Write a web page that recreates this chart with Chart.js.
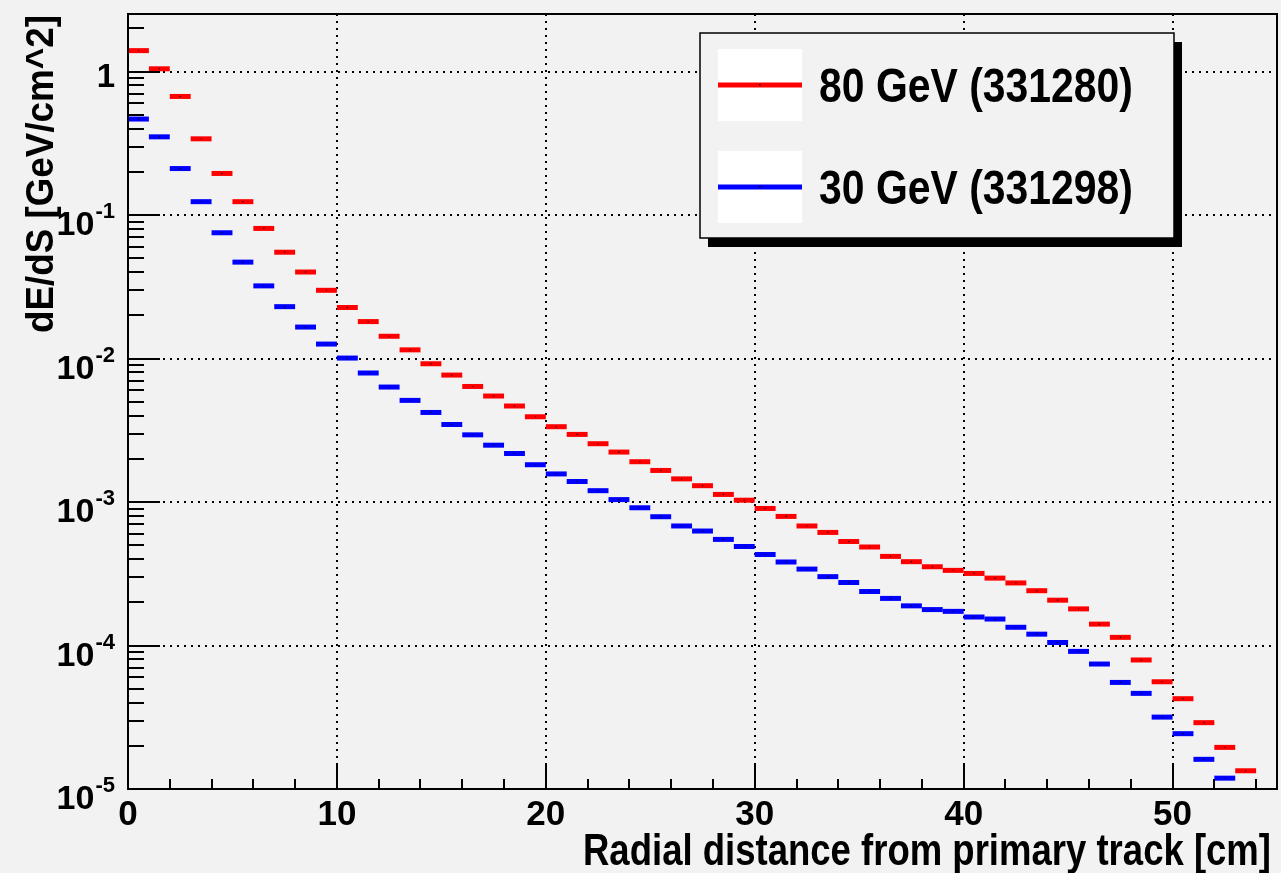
<!DOCTYPE html>
<html><head><meta charset="utf-8">
<script src="https://cdn.jsdelivr.net/npm/chart.js@4.4.1/dist/chart.umd.min.js"></script>
<style>html,body{margin:0;padding:0;background:#f2f2f2;overflow:hidden}canvas{display:block}</style>
</head><body>
<canvas id="c" width="1281" height="873" style="width:1281px;height:873px"></canvas>
<script>
// ---- data ----
const binLowEdges = [0,1,2,3,4,5,6,7,8,9,10,11,12,13,14,15,16,17,18,19,20,21,22,23,24,25,26,27,28,29,30,31,32,33,34,35,36,37,38,39,40,41,42,43,44,45,46,47,48,49,50,51,52,53];
const binWidth = 1;
const red80 = [1.40,1.046,0.671,0.340,0.195,0.124,0.0807,0.0551,0.0401,0.0299,
  0.0227,0.0181,0.0143,0.0115,0.0092,0.00767,0.00639,0.00548,0.00467,0.00393,
  0.00335,0.00296,0.00255,0.00223,0.00191,0.00166,0.00145,0.00130,0.00113,0.00103,
  0.000902,0.000794,0.000681,0.000614,0.000531,0.000486,0.000418,0.000384,0.000354,0.000334,
  0.000318,0.000295,0.000273,0.000241,0.000207,0.000180,0.000141,0.000114,0.0000793,0.0000559,
  0.0000426,0.0000290,0.0000195,0.0000134];
const blue30 = [0.467,0.351,0.211,0.124,0.0753,0.0470,0.0321,0.0230,0.01658,0.01262,
  0.01008,0.00793,0.00633,0.00511,0.00421,0.00347,0.00294,0.00249,0.00218,0.00182,
  0.00157,0.00139,0.00120,0.00104,0.000912,0.000790,0.000681,0.000628,0.000549,0.000490,
  0.000431,0.000382,0.000341,0.000302,0.000275,0.000238,0.000213,0.000189,0.000178,0.000173,
  0.000158,0.000153,0.000134,0.000120,0.000105,0.0000910,0.0000743,0.0000553,0.0000464,0.0000317,
  0.0000243,0.0000161,0.0000119];
const seriesLabels = ['80 GeV (331280)', '30 GeV (331298)'];
const seriesColors = ['#ff0000', '#0000ff'];
const xTickValues = [0, 10, 20, 30, 40, 50];
const xTickLabels = ['0', '10', '20', '30', '40', '50'];
const yTickExponents = [0, -1, -2, -3, -4, -5];
const xTitle = 'Radial distance from primary track [cm]';
const yTitle = 'dE/dS [GeV/cm^2]';

// ---- rendering ----
const FONT = "'Liberation Sans', Arial, Helvetica, sans-serif";
const X_MIN = 0, X_MAX = 55, Y_MIN = 1e-5, Y_MAX = 2.52;

function toPoints(vals) {
  return vals.map((v, i) => ({ x: binLowEdges[i] + binWidth / 2, y: v }));
}
function halfBin(c) {
  const s = c.chart.scales.x;
  return Math.abs(s.getPixelForValue(binWidth) - s.getPixelForValue(0)) / 2;
}
function barDataset(vals, color, label) {
  return { label, data: toPoints(vals), showLine: false, pointStyle: 'line',
    pointRadius: halfBin, pointHoverRadius: halfBin, pointBorderWidth: 5,
    pointBorderColor: color, pointBackgroundColor: color, order: 2 };
}
function dotDataset(vals) {
  return { label: '', data: toPoints(vals), showLine: false, pointStyle: 'rect',
    pointRadius: 0.8, pointBorderWidth: 0, pointBackgroundColor: '#000', order: 1 };
}

function drawStretched(ctx, text, x, y, size, targetW, align) {
  ctx.save();
  ctx.font = 'bold ' + size + 'px ' + FONT;
  const w = ctx.measureText(text).width;
  const sx = targetW ? targetW / w : 1;
  ctx.translate(x, y);
  ctx.scale(sx, 1);
  ctx.textAlign = align || 'left';
  ctx.textBaseline = 'alphabetic';
  ctx.fillText(text, 0, 0);
  ctx.restore();
}

const rootPlugin = {
  id: 'rootStyle',
  beforeDraw(chart) {
    const { ctx, width, height } = chart;
    ctx.save(); ctx.fillStyle = '#f2f2f2'; ctx.fillRect(0, 0, width, height); ctx.restore();
  },
  afterDraw(chart) {
    const { ctx, chartArea: a, scales: { x, y } } = chart;
    ctx.save();
    ctx.strokeStyle = '#000'; ctx.fillStyle = '#000'; ctx.lineWidth = 2;
    // tick marks (inside frame)
    ctx.beginPath();
    for (let v = X_MIN; v <= X_MAX; v += 2) {
      const px = Math.round(x.getPixelForValue(v));
      const len = (v % 10 === 0) ? 24 : 10;
      ctx.moveTo(px, a.bottom); ctx.lineTo(px, a.bottom - len);
    }
    for (let e = -5; e <= 0; e++) {
      for (let k = 1; k <= 9; k++) {
        const v = k * Math.pow(10, e);
        if (v > Y_MAX) continue;
        const py = Math.round(y.getPixelForValue(v));
        const len = k === 1 ? 32 : 16;
        ctx.moveTo(a.left, py); ctx.lineTo(a.left + len, py);
      }
    }
    ctx.stroke();
    // frame
    ctx.lineWidth = 2;
    ctx.strokeRect(a.left, a.top, a.right - a.left, a.bottom - a.top);

    // x tick labels
    ctx.font = 'bold 35px ' + FONT;
    ctx.textAlign = 'center'; ctx.textBaseline = 'alphabetic';
    xTickValues.forEach((v, i) => ctx.fillText(xTickLabels[i], x.getPixelForValue(v), 825));
    // y tick labels
    const RIGHT = 115;
    yTickExponents.forEach(e => {
      const py = y.getPixelForValue(Math.pow(10, e));
      ctx.textAlign = 'right';
      if (e === 0) {
        ctx.font = 'bold 33px ' + FONT;
        ctx.fillText('1', RIGHT, py + 15);
      } else {
        ctx.font = 'bold 22px ' + FONT;
        const sup = String(e);
        const sw = ctx.measureText(sup).width;
        ctx.fillText(sup, RIGHT, py + 3);
        ctx.font = 'bold 34px ' + FONT;
        ctx.fillText('10', RIGHT - sw - 1, py + 20);
      }
    });
    // axis titles
    drawStretched(ctx, xTitle, 1271, 865, 44, 688, 'right');
    ctx.save();
    ctx.translate(53, 15);
    ctx.rotate(-Math.PI / 2);
    drawStretched(ctx, yTitle, 0, 0, 39, 318, 'right');
    ctx.restore();

    // legend
    const L = { x: 700, y: 33, w: 474, h: 205 };
    ctx.fillStyle = '#000';
    ctx.fillRect(L.x + 8, L.y + 9, L.w, L.h);
    ctx.fillStyle = '#f2f2f2';
    ctx.fillRect(L.x, L.y, L.w, L.h);
    ctx.lineWidth = 1.5; ctx.strokeStyle = '#000';
    ctx.strokeRect(L.x, L.y, L.w, L.h);
    seriesLabels.forEach((lab, i) => {
      const top = 49 + i * 102;
      ctx.fillStyle = '#ffffff';
      ctx.fillRect(718, top, 84, 72);
      ctx.strokeStyle = seriesColors[i]; ctx.lineWidth = 5;
      ctx.beginPath(); ctx.moveTo(718, top + 36); ctx.lineTo(802, top + 36); ctx.stroke();
      ctx.fillStyle = '#000';
      ctx.fillRect(759, top + 35, 1.5, 1.5);
      drawStretched(ctx, lab, 819, top + 53, 49, 314, 'left');
    });
    ctx.restore();
  }
};

new Chart(document.getElementById('c').getContext('2d'), {
  type: 'scatter',
  data: { datasets: [
    barDataset(red80, seriesColors[0], seriesLabels[0]),
    barDataset(blue30, seriesColors[1], seriesLabels[1]),
    dotDataset(red80),
    dotDataset(blue30)
  ] },
  options: {
    responsive: false, animation: false, events: [],
    layout: { padding: { top: 14, right: 4, left: 0, bottom: 0 } },
    plugins: { legend: { display: false }, tooltip: { enabled: false } },
    scales: {
      x: { type: 'linear', min: X_MIN, max: X_MAX,
        afterBuildTicks: s => { s.ticks = xTickValues.map(v => ({ value: v })); },
        afterFit: s => { s.height = 84; },
        ticks: { display: false },
        grid: { color: '#000', lineWidth: 2, drawTicks: false },
        border: { display: false, dash: [2, 5] } },
      y: { type: 'logarithmic', min: Y_MIN, max: Y_MAX,
        afterBuildTicks: s => { s.ticks = yTickExponents.map(e => ({ value: Math.pow(10, e), major: true })); },
        afterFit: s => { s.width = 128; },
        ticks: { display: false },
        grid: { color: '#000', lineWidth: 2, drawTicks: false },
        border: { display: false, dash: [2, 5] } }
    }
  },
  plugins: [rootPlugin]
});
</script>
</body></html>
